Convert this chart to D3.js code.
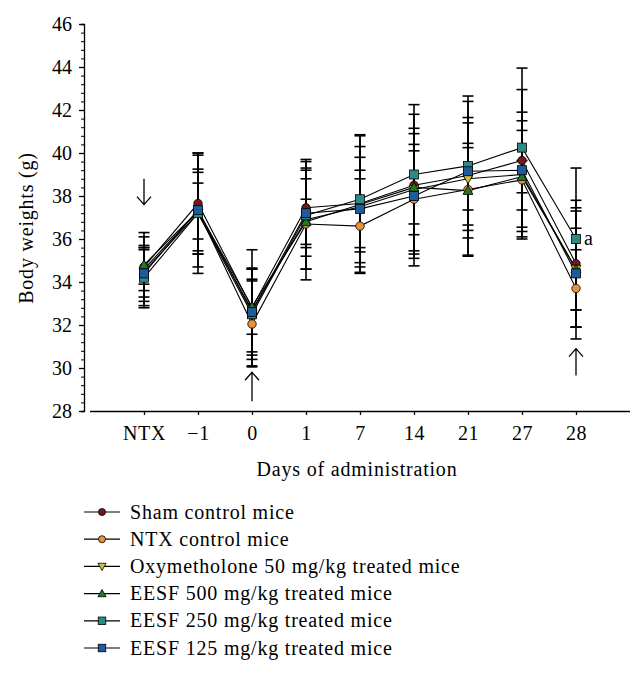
<!DOCTYPE html>
<html><head><meta charset="utf-8">
<script src="https://cdn.jsdelivr.net/npm/d3@7"></script>
<style>
body{margin:0;background:#fff;}
text{font-family:"Liberation Serif","Times New Roman",serif;}
</style></head>
<body><svg id="c" width="643" height="674"></svg>
<script>
const days = ["NTX","\u22121","0","1","7","14","21","27","28"];
const seriesNames = ["Sham control mice","NTX control mice","Oxymetholone 50 mg/kg treated mice","EESF 500 mg/kg treated mice","EESF 250 mg/kg treated mice","EESF 125 mg/kg treated mice"];
const sham   = [34.7, 37.65, 32.8, 37.45, 37.65, 38.5, 38.95, 39.65, 34.85];
const shamSD = [1.6, 2.35, 2.7, 2.25, 3.2, 3.75, 3.7, 3.3, 2.95];
const ntx    = [34.6, 37.3, 32.05, 36.7, 36.6, 37.85, 38.3, 38.75, 33.7];
const ntxSD  = [1.0, 2.6, 2.0, 2.6, 2.2, 2.55, 3.1, 2.75, 1.8];
const oxy    = [34.5, 37.2, 32.7, 36.9, 37.5, 38.3, 38.8, 39.0, 34.6];
const oxySD  = [1.6, 1.9, 1.95, 2.3, 2.8, 2.85, 1.45, 2.9, 2.7];
const e500   = [34.8, 37.3, 32.85, 36.8, 37.6, 38.4, 38.25, 38.9, 34.6];
const e500SD = [0.9, 1.3, 1.28, 1.05, 2.2, 1.7, 2.2, 0.75, 1.9];
const e250   = [34.2, 37.2, 32.5, 37.1, 37.85, 39.0, 39.4, 40.25, 36.0];
const e250SD = [1.4, 2.8, 2.1, 2.5, 2.95, 2.8, 3.0, 3.7, 3.3];
const e125   = [34.4, 37.35, 32.6, 37.2, 37.4, 38.0, 39.15, 39.2, 34.4];
const e125SD = [1.1, 1.9, 2.0, 1.6, 1.8, 2.9, 2.5, 1.85, 3.05];
const yMajor = [28,30,32,34,36,38,40,42,44,46];
// arrows: day, tail value, head value
const arrowDays = ["NTX","0","28"];
const arrowFrom = [38.8, 28.45, 29.65];
const arrowTo   = [37.6, 29.8, 30.9];
const sigLabel = "a";

const colors = ["#751719","#e8903a","#cbc23a","#1f7a25","#2b8b87","#1d5b9c"];
const shapes = ["circle","circle","triDown","triUp","square","square"];
const means = [sham, ntx, oxy, e500, e250, e125];
const sds = [shamSD, ntxSD, oxySD, e500SD, e250SD, e125SD];

const svg = d3.select("#c");
const x = d3.scalePoint().domain(days).range([90, 630]).padding(1);
const y = d3.scaleLinear().domain([28, 46]).range([411, 24]);

// axes
const yAxisMinor = d3.axisLeft(y).tickValues(d3.range(0, 46).map(i => 28 + i*0.4).filter(v => v <= 46.001)).tickSize(3).tickFormat("");
svg.append("g").attr("transform","translate(84,0)").call(yAxisMinor)
  .call(g => g.select(".domain").attr("stroke","#000").attr("stroke-width",1.3))
  .call(g => g.selectAll(".tick line").attr("stroke","#000").attr("stroke-width",1));
const yAxis = d3.axisLeft(y).tickValues(yMajor).tickSize(5).tickPadding(7).tickFormat(d3.format("d"));
svg.append("g").attr("transform","translate(84,0)").call(yAxis)
  .call(g => g.select(".domain").remove())
  .call(g => g.selectAll(".tick line").attr("stroke","#000").attr("stroke-width",1.3))
  .call(g => g.selectAll(".tick text").attr("font-size",20).attr("fill","#000").attr("dy","0.33em"));
const xAxis = d3.axisBottom(x).tickSize(4).tickSizeOuter(0).tickPadding(11);
svg.append("g").attr("transform","translate(0,411)").call(xAxis)
  .call(g => g.select(".domain").attr("stroke","#000").attr("stroke-width",1.3).attr("d","M90,0.5H630"))
  .call(g => g.selectAll(".tick line").attr("stroke","#000").attr("stroke-width",1.3))
  .call(g => g.selectAll(".tick text").attr("font-size",20).attr("fill","#000").attr("letter-spacing","0.6px"));

svg.append("text").attr("x",357).attr("y",476).attr("text-anchor","middle").attr("font-size",20).attr("letter-spacing","0.8px").text("Days of administration");
svg.append("text").attr("transform","translate(33,228) rotate(-90)").attr("text-anchor","middle").attr("font-size",20).attr("letter-spacing","0.8px").text("Body weights (g)");

// error bars
means.forEach((m, s) => {
  const g = svg.append("g").attr("stroke","#000").attr("stroke-width",1.6);
  m.forEach((v, i) => {
    const cx = x(days[i]), sd = sds[s][i];
    g.append("line").attr("x1",cx).attr("x2",cx).attr("y1",y(v+sd)).attr("y2",y(v-sd));
    g.append("line").attr("x1",cx-5.5).attr("x2",cx+5.5).attr("y1",y(v+sd)).attr("y2",y(v+sd));
    g.append("line").attr("x1",cx-5.5).attr("x2",cx+5.5).attr("y1",y(v-sd)).attr("y2",y(v-sd));
  });
});
// lines
const line = d3.line().x((d,i) => x(days[i])).y(d => y(d));
means.forEach((m, s) => {
  svg.append("path").attr("d", line(m)).attr("fill","none").attr("stroke","#000").attr("stroke-width",1.1);
});
function marker(g, shape, cx, cy, color, sz) {
  let el;
  if (shape === "circle") el = g.append("circle").attr("cx",cx).attr("cy",cy).attr("r",sz*0.47);
  else if (shape === "square") el = g.append("rect").attr("x",cx-sz/2).attr("y",cy-sz/2).attr("width",sz).attr("height",sz);
  else if (shape === "triUp") el = g.append("path").attr("d",`M${cx},${cy-sz*0.55}L${cx+sz*0.55},${cy+sz*0.42}L${cx-sz*0.55},${cy+sz*0.42}Z`);
  else el = g.append("path").attr("d",`M${cx},${cy+sz*0.55}L${cx+sz*0.55},${cy-sz*0.42}L${cx-sz*0.55},${cy-sz*0.42}Z`);
  el.attr("fill", color).attr("stroke","#000").attr("stroke-width",0.8);
}
means.forEach((m, s) => {
  const g = svg.append("g");
  m.forEach((v, i) => marker(g, shapes[s], x(days[i]), y(v), colors[s], 9));
});

// annotations
svg.append("text").attr("x", x("28")+8).attr("y", y(e250[8])+6).attr("font-size",20).text(sigLabel);
arrowDays.forEach((d, i) => {
  const cx = x(d), y1 = y(arrowFrom[i]), y2 = y(arrowTo[i]);
  const dir = y2 > y1 ? 1 : -1;
  svg.append("path").attr("fill","none").attr("stroke","#000").attr("stroke-width",1.3)
    .attr("d",`M${cx},${y1}L${cx},${y2}M${cx-7},${y2-dir*8}L${cx},${y2}L${cx+7},${y2-dir*8}`);
});

// legend
const lg = svg.append("g");
seriesNames.forEach((name, s) => {
  const ly = 512 + s*27.2;
  lg.append("line").attr("x1",84).attr("x2",120).attr("y1",ly).attr("y2",ly).attr("stroke","#000").attr("stroke-width",1.2);
  marker(lg, shapes[s], 102, ly, colors[s], 7.5);
  lg.append("text").attr("x",130).attr("y",ly+6.5).attr("font-size",20).attr("letter-spacing","0.8px").text(name);
});
</script>
</body></html>
